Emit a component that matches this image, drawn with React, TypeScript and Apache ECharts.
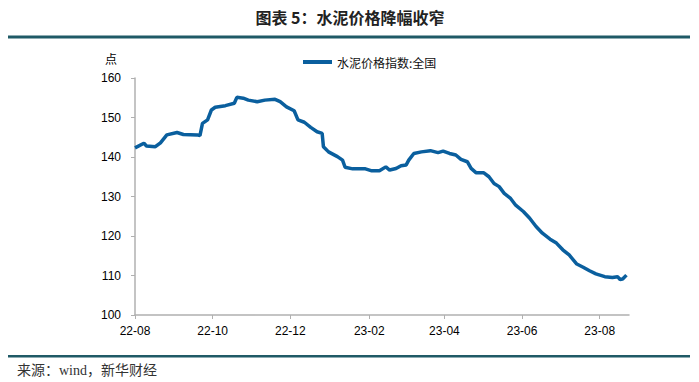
import React, { useEffect, useRef } from "react";
import * as echarts from "echarts";

const TITLE = "图表 5：水泥价格降幅收窄";
const SOURCE = "来源：wind，新华财经";
const SERIES_NAME = "水泥价格指数:全国";
const Y_UNIT = "点";

const dates: string[] = [
  "2022-08-01", "2022-08-08", "2022-08-10", "2022-08-17", "2022-08-21", "2022-08-26",
  "2022-09-03", "2022-09-08", "2022-09-19", "2022-09-21", "2022-09-23", "2022-09-27",
  "2022-09-30", "2022-10-03", "2022-10-11", "2022-10-18", "2022-10-20", "2022-10-25",
  "2022-10-29", "2022-11-05", "2022-11-11", "2022-11-19", "2022-11-23", "2022-11-28",
  "2022-12-04", "2022-12-07", "2022-12-12", "2022-12-17", "2022-12-22", "2022-12-26",
  "2022-12-27", "2022-12-31", "2023-01-07", "2023-01-11", "2023-01-13", "2023-01-19",
  "2023-01-29", "2023-02-03", "2023-02-09", "2023-02-14", "2023-02-17", "2023-02-22",
  "2023-02-26", "2023-03-02", "2023-03-04", "2023-03-08", "2023-03-14", "2023-03-21",
  "2023-03-27", "2023-03-31", "2023-04-05", "2023-04-10", "2023-04-14", "2023-04-19",
  "2023-04-22", "2023-04-26", "2023-05-02", "2023-05-06", "2023-05-10", "2023-05-14",
  "2023-05-18", "2023-05-23", "2023-05-27", "2023-06-02", "2023-06-07", "2023-06-12",
  "2023-06-17", "2023-06-23", "2023-06-28", "2023-07-03", "2023-07-08", "2023-07-14",
  "2023-07-19", "2023-07-24", "2023-07-29", "2023-08-05", "2023-08-11", "2023-08-15",
  "2023-08-17", "2023-08-19", "2023-08-22",
];

const values: number[] = [
  142.3, 143.5, 142.8, 142.6, 143.6, 145.6,
  146.2, 145.7, 145.6, 145.4, 148.5, 149.4,
  151.9, 152.6, 153.0, 153.6, 155.1, 154.9,
  154.4, 154.0, 154.4, 154.6, 154.0, 152.7,
  151.7, 149.4, 148.8, 147.5, 146.4, 146.0,
  142.6, 141.3, 140.1, 139.2, 137.4, 137.0,
  137.0, 136.5, 136.5, 137.5, 136.7, 137.1,
  137.8, 138.0, 139.2, 140.9, 141.3, 141.6,
  141.1, 141.5, 140.9, 140.5, 139.4, 138.8,
  137.1, 136.0, 136.0, 135.0, 133.3, 132.5,
  130.8, 129.5, 127.8, 126.2, 124.5, 122.4,
  120.7, 119.2, 118.2, 116.5, 115.2, 112.9,
  112.1, 111.2, 110.4, 109.7, 109.5, 109.7,
  109.0, 109.1, 110.1,
];

const xTickDates: string[] = [
  "2022-08-01", "2022-10-01", "2022-12-01", "2023-02-01", "2023-04-01", "2023-06-01", "2023-08-01",
];
const xMin = "2022-08-01";
const xMax = "2023-08-24";

const Y_MIN = 100;
const Y_MAX = 160;
const Y_STEP = 10;

function ts(s: string): number {
  const [y, m, d] = s.split("-").map(Number);
  return Date.UTC(y, m - 1, d);
}

function fmt(v: number): string {
  const d = new Date(v);
  const yy = String(d.getUTCFullYear() % 100).padStart(2, "0");
  const mm = String(d.getUTCMonth() + 1).padStart(2, "0");
  return `${yy}-${mm}`;
}

export default function App() {
  const ref = useRef<HTMLDivElement>(null);

  useEffect(() => {
    if (!ref.current) return;
    const chart = echarts.init(ref.current, undefined, { renderer: "svg" });
    const tickVals = xTickDates.map(ts);
    const axisColor = "#b0b0b0";
    const lineColor = "#0a5f9e";
    chart.setOption({
      animation: false,
      backgroundColor: "#ffffff",
      grid: { left: 135, right: 70, top: 78, bottom: 67, containLabel: false },
      legend: {
        left: 298,
        top: 51,
        itemWidth: 29,
        itemHeight: 4,
        icon: "rect",
        data: [{ name: SERIES_NAME, icon: "rect" }],
        textStyle: { fontSize: 12, color: "#111", fontFamily: "Noto Sans CJK SC" },
      },
      xAxis: {
        type: "value",
        min: ts(xMin),
        max: ts(xMax),
        axisLine: { show: true, lineStyle: { color: axisColor, width: 1.5 } },
        axisTick: {
          show: true,
          inside: false,
          length: 4,
          customValues: tickVals,
          lineStyle: { color: axisColor, width: 1 },
        },
        axisLabel: {
          customValues: tickVals,
          formatter: (v: number) => fmt(v),
          fontSize: 12,
          color: "#000",
          fontFamily: "Liberation Sans, Arial",
          margin: 10,
          showMinLabel: true,
          showMaxLabel: true,
        },
        splitLine: { show: false },
      },
      yAxis: {
        type: "value",
        min: Y_MIN,
        max: Y_MAX,
        interval: Y_STEP,
        axisLine: { show: true, lineStyle: { color: axisColor, width: 1.5 } },
        axisTick: { show: true, length: 4, lineStyle: { color: axisColor, width: 1 } },
        axisLabel: {
          fontSize: 12,
          color: "#000",
          fontFamily: "Liberation Sans, Arial",
          margin: 14,
        },
        splitLine: { show: false },
      },
      series: [
        {
          name: SERIES_NAME,
          type: "line",
          data: dates.map((d, i) => [ts(d), values[i]]),
          showSymbol: false,
          symbol: "none",
          lineStyle: { color: lineColor, width: 3.5 },
          itemStyle: { color: lineColor },
        },
      ],
      graphic: [
        {
          type: "text",
          x: 350,
          y: 17,
          style: {
            text: TITLE,
            fontSize: 16,
            fontWeight: "bold",
            fill: "#222",
            fontFamily: "Noto Sans CJK SC",
            textAlign: "center",
            textVerticalAlign: "middle",
          },
        },
        { type: "rect", shape: { x: 8, y: 35.5, width: 682, height: 3 }, style: { fill: "#1f5a66" } },
        { type: "rect", shape: { x: 8, y: 355, width: 682, height: 2.5 }, style: { fill: "#1f5a66" } },
        {
          type: "text",
          x: 111,
          y: 58,
          style: {
            text: Y_UNIT,
            fontSize: 12,
            fill: "#000",
            fontFamily: "Noto Sans CJK SC",
            textAlign: "center",
            textVerticalAlign: "middle",
          },
        },
        {
          type: "text",
          x: 17,
          y: 370,
          style: {
            text: SOURCE,
            fontSize: 14,
            fill: "#333",
            fontFamily: "Liberation Serif, Noto Sans CJK SC",
            textAlign: "left",
            textVerticalAlign: "middle",
          },
        },
      ],
    });
    return () => chart.dispose();
  }, []);

  return (
    <div
      ref={ref}
      style={{ position: "fixed", left: 0, top: 0, width: 699, height: 382, background: "#fff" }}
    />
  );
}
